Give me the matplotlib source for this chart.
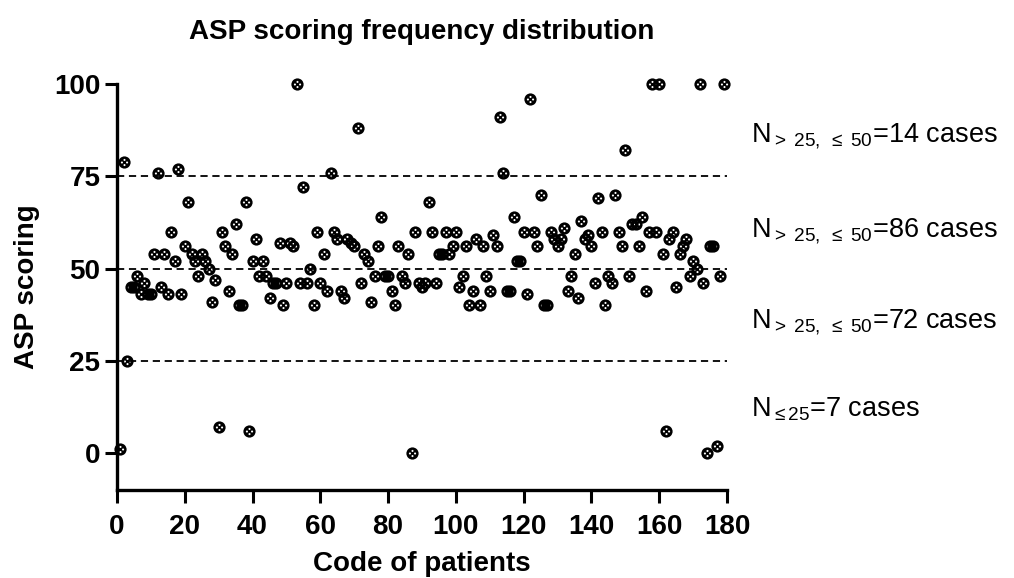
import numpy as np
import matplotlib
matplotlib.use('Agg')
import matplotlib.pyplot as plt
from matplotlib.path import Path
from matplotlib.transforms import Affine2D

# ASP score for each patient code
codes = np.arange(1, 180)
scores = [1, 79, 25, 45, 45, 48, 43, 46, 43, 43,
          54, 76, 45, 54, 43, 60, 52, 77, 43, 56,
          68, 54, 52, 48, 54, 52, 50, 41, 47, 7,
          60, 56, 44, 54, 62, 40, 40, 68, 6, 52,
          58, 48, 52, 48, 42, 46, 46, 57, 40, 46,
          57, 56, 100, 46, 72, 46, 50, 40, 60, 46,
          54, 44, 76, 60, 58, 44, 42, 58, 57, 56,
          88, 46, 54, 52, 41, 48, 56, 64, 48, 48,
          44, 40, 56, 48, 46, 54, 0, 60, 46, 45,
          46, 68, 60, 46, 54, 54, 60, 54, 56, 60,
          45, 48, 56, 40, 44, 58, 40, 56, 48, 44,
          59, 56, 91, 76, 44, 44, 64, 52, 52, 60,
          43, 96, 60, 56, 70, 40, 40, 60, 58, 56,
          58, 61, 44, 48, 54, 42, 63, 58, 59, 56,
          46, 69, 60, 40, 48, 46, 70, 60, 56, 82,
          48, 62, 62, 56, 64, 44, 60, 100, 60, 100,
          54, 6, 58, 60, 45, 54, 56, 58, 48, 52,
          50, 100, 46, 0, 56, 56, 2, 48, 100]

cut_levels = [25, 50, 75]
x_ticks = [0, 20, 40, 60, 80, 100, 120, 140, 160, 180]
y_ticks = [0, 25, 50, 75, 100]
notes = [r'$\mathregular{N_{>\ 25,\ \leq\ 50}}$=14 cases',
         r'$\mathregular{N_{>\ 25,\ \leq\ 50}}$=86 cases',
         r'$\mathregular{N_{>\ 25,\ \leq\ 50}}$=72 cases',
         r'$\mathregular{N_{\leq 25}}$=7 cases']
note_y = [86, 60, 35.5, 12]

plt.rcParams['font.family'] = ['Liberation Sans', 'DejaVu Sans']
plt.rcParams['mathtext.fontset'] = 'custom'
plt.rcParams['mathtext.rm'] = 'Liberation Sans'
plt.rcParams['mathtext.it'] = 'Liberation Sans:italic'
plt.rcParams['mathtext.bf'] = 'Liberation Sans:bold'

# black dot with small white holes (prism style marker)
flip = Affine2D().scale(-1, 1)
holes = [Path.circle((dx, dy), 0.17).transformed(flip)
         for dx, dy in [(0, 0.42), (0, -0.42), (0.42, 0), (-0.42, 0)]]
dot_marker = Path.make_compound_path(Path.circle((0, 0), 1.0), *holes)

fig = plt.figure(figsize=(10.14, 5.78), dpi=100)
ax = fig.add_axes([117 / 1014, 1 - 490 / 578, (727 - 117) / 1014, (490 - 84) / 578])

ax.hlines(cut_levels, 0, 180, colors='black', linestyles=(0, (4, 2.6)), linewidth=1.3)
ax.plot(codes, scores, linestyle='none', marker=dot_marker, markersize=8.8,
        markerfacecolor='black', markeredgewidth=0, color='black', clip_on=False, zorder=3)

ax.set_xlim(0, 180)
ax.set_ylim(-10, 100)
ax.set_xticks(x_ticks)
ax.set_yticks(y_ticks)
ax.spines['top'].set_visible(False)
ax.spines['right'].set_visible(False)
for s in ['left', 'bottom']:
    ax.spines[s].set_linewidth(2.4)
ax.spines['left'].set_bounds(-10, 100)
ax.tick_params(axis='both', direction='out', length=9, width=2.2, labelsize=20)
ax.tick_params(axis='x', pad=8)
ax.tick_params(axis='y', pad=3)
for lab in ax.get_xticklabels() + ax.get_yticklabels():
    lab.set_fontweight('bold')

ax.set_xlabel('Code of patients', fontsize=20, fontweight='bold', labelpad=8)
ax.set_ylabel('ASP scoring', fontsize=20, fontweight='bold', labelpad=10)
fig.text(422 / 1014, 1 - 32 / 578, 'ASP scoring frequency distribution',
         ha='center', va='center', fontsize=20, fontweight='bold')

for txt, yv in zip(notes, note_y):
    ax.text(187, yv, txt, fontsize=19.5, ha='left', va='center', clip_on=False)

fig.savefig('out.png', dpi=100)
